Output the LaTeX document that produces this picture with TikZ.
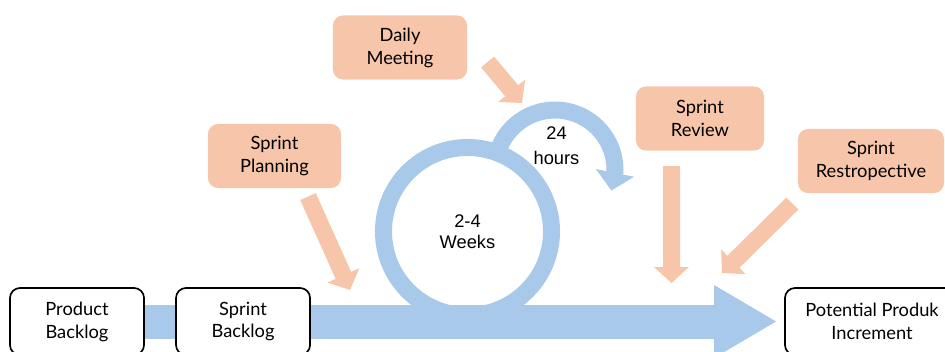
\documentclass[tikz,border=0pt]{standalone}
\usepackage{fontspec}
\setmainfont{Lato}
\newfontfamily\arialfont{Liberation Sans}
\usepackage{xcolor}
\usepackage{tikz}
\usetikzlibrary{positioning,arrows.meta,bending,backgrounds}

\definecolor{skyblue}{HTML}{A9C9EA}
\definecolor{peach}{HTML}{F7C6AA}
\newcommand{\boxfont}{\fontsize{13}{16.3}\selectfont}
\newcommand{\ringfont}{\arialfont\fontsize{13}{15}\selectfont}
\newcommand{\hourfont}{\arialfont\fontsize{13}{17.7}\selectfont}

\begin{document}
\begin{tikzpicture}[x=0.025cm, y=0.025cm, thick,
        whitebox/.style={rectangle, draw, fill=white, line width=1.2pt, rounded corners=0.25cm,
            align=center, minimum width=3.35cm, minimum height=1.675cm, font=\boxfont},
        peachbox/.style={rectangle, fill=peach, rounded corners=0.25cm,
            align=center, minimum height=1.6cm, font=\boxfont},
        peacharrow/.style={draw=peach, line width=0.425cm, -{Triangle[width=0.85cm,length=0.4cm]}},
        bigarrow/.style={draw=skyblue, line width=0.85cm, -{Triangle[width=1.7cm,length=1.575cm]}},
        hourarrow/.style={draw=skyblue, line width=0.425cm, -{Triangle[width=0.95cm,length=0.45cm]}}]

        \useasboundingbox (0,0) rectangle (945,351);

        % 白色框和循环
        \node (pb) [whitebox] at (77,29.5) {Product\\Backlog};
        \node (sb) [whitebox, right of=pb, node distance=4.15cm] {Sprint\\Backlog};
        \node (inc) [whitebox, minimum width=4.35cm] at (872,29.5) {Potential Produk\\Increment};
        \node (weeks) [circle, draw=skyblue, line width=0.425cm, minimum size=4.2cm, inner sep=0pt,
            align=center, font=\ringfont] at (467.5,119.5) {2-4\\Weeks};
        \node (hours) [align=center, font=\hourfont] at (556.5,205.5) {24\\hours};

        % 橙色框
        \node (dm) [peachbox, minimum width=3.35cm] at (400,303.5) {Daily\\Meeting};
        \node (sp) [peachbox, minimum width=3.325cm] at (274.5,195) {Sprint\\Planning};
        \node (sr) [peachbox, minimum width=3.2cm] at (700,232.5) {Sprint\\Review};
        \node (rs) [peachbox, minimum width=3.65cm] at (871,190) {Sprint\\Restropective};

        \coordinate (sptip) at (350,61);
        \coordinate (dmtip) at (522,248);
        \coordinate (srtip) at (671.5,68);
        \coordinate (rstip) at (722,78);
        \coordinate (loop) at (498.6,201.5);

        \begin{scope}[on background layer]
            \draw[bigarrow] (pb.center) -- ([shift={(-7,0)}]inc.west);
        \end{scope}
        \draw[hourarrow] (loop) arc[start angle=160, end angle=-20, radius=60];

        \draw[peacharrow] ([shift={(33.5,-8)}]sp.south) -- (sptip);
        \draw[peacharrow] ([shift={(20,-14.5)}]dm.east) -- (dmtip);
        \draw[peacharrow] ([shift={(-28.5,-15)}]sr.south) -- (srtip);
        \draw[peacharrow] ([shift={(-5,-10)}]rs.south west) -- (rstip);

    \end{tikzpicture}
\end{document}
